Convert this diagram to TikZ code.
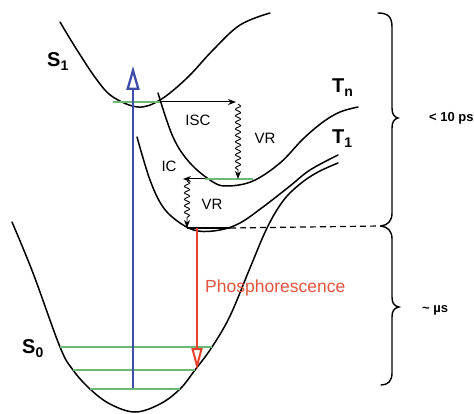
\documentclass[tikz,border=0pt]{standalone}
\usepackage{fontspec}
\setmainfont{Liberation Sans}
\usetikzlibrary{arrows.meta,decorations.pathmorphing,decorations.pathreplacing}
\definecolor{bluearr}{RGB}{62,78,168}
\definecolor{redarr}{RGB}{232,64,44}
\definecolor{phostext}{RGB}{228,84,62}
\definecolor{lvlgreen}{RGB}{108,184,118}
\newcommand\subidx[1]{\raisebox{-4pt}{\fontsize{14}{14}\selectfont #1}}
\begin{document}
\begin{tikzpicture}[x=1pt,y=-1pt,
  curveline/.style={line width=1.5pt, black, line cap=round},
  lvl/.style={line width=1.6pt, lvlgreen},
  blacklvl/.style={line width=1.3pt, black},
  smallarr/.style={line width=1pt, black, -{Stealth[length=8pt,width=6pt]}},
  waver/.style={line width=0.9pt, black, decorate,
    decoration={snake, amplitude=2.6pt, segment length=6.5pt, post length=8pt},
    -{Stealth[length=8pt,width=6pt]}},
  bracestyle/.style={line width=1.4pt, black, line cap=round},
  labbig/.style={font=\bfseries\fontsize{20}{20}\selectfont, inner sep=0pt},
  labsmall/.style={font=\fontsize{15}{15}\selectfont, inner sep=0pt},
  labtime/.style={font=\bfseries\fontsize{13}{13}\selectfont, inner sep=0pt}]
\useasboundingbox (0,0) rectangle (474,414);

% potential curves
\draw[curveline] plot[smooth,tension=0.6] coordinates {(60,22) (77,50) (97,80) (113,97) (138,107) (160,100) (187,78) (213,50) (240,25) (270,13)};
\draw[curveline] plot[smooth,tension=0.6] coordinates {(158,93) (173,137) (190,163) (213,182) (228,186) (253,181) (280,163) (303,139) (323,122) (340,112) (358,107)};
\draw[curveline] plot[smooth,tension=0.6] coordinates {(137,137) (150,180) (163,207) (180,223) (198,231) (220,230) (240,223) (263,207) (290,186) (310,170) (338,155)};
\draw[curveline] plot[smooth,tension=0.6] coordinates {(12,222) (33,273) (60,347) (73,370) (90,389) (110,404) (135,412) (160,404) (180,389) (195,370) (212,347) (230,316) (250,268) (267,228) (283,201) (300,184) (318,172) (338,163)};

% coordinates
\coordinate (s1l) at (113,102);
\coordinate (s1r) at (160,102);
\coordinate (iscend) at (236,102);
\coordinate (vr1top) at (238,104);
\coordinate (vr1bot) at (238,179);
\coordinate (tnl) at (205,179);
\coordinate (tnr) at (253,179);
\coordinate (icend) at (183,179);
\coordinate (vr2top) at (187,181);
\coordinate (vr2bot) at (187,228);
\coordinate (t1l) at (187,228);
\coordinate (t1r) at (230,228);
\coordinate (dashend) at (381,226);
\coordinate (bracetop) at (378,13);
\coordinate (bracebot) at (381,385);
\coordinate (tip1) at (398,118);
\coordinate (tip2) at (399,307);
\coordinate (blue0) at (133,388);
\coordinate (blue1) at (133,66);
\coordinate (red0) at (197,228);
\coordinate (red1) at (197,370);

% vibrational levels
\draw[lvl] (s1l) -- (s1r);
\draw[lvl] (tnl) -- (tnr);
\draw[blacklvl] (t1l) -- (t1r);
\draw[line width=1.2pt, black, dash pattern=on 6pt off 4pt] (t1r) -- (dashend);
\coordinate (g1l) at (60,347); \coordinate (g1r) at (212,347);
\coordinate (g2l) at (73,370); \coordinate (g2r) at (195,370);
\coordinate (g3l) at (90,389); \coordinate (g3r) at (180,389);
\draw[lvl] (g1l) -- (g1r);
\draw[lvl] (g2l) -- (g2r);
\draw[lvl] (g3l) -- (g3r);

% transitions
\draw[smallarr] (s1r) -- (iscend);
\draw[waver] (vr1top) -- (vr1bot);
\draw[smallarr] (tnl) -- (icend);
\draw[waver] (vr2top) -- (vr2bot);
\draw[bluearr, line width=2.3pt, -{Triangle[open,length=24pt,width=13pt]}] (blue0) -- (blue1);
\draw[redarr, line width=2pt, -{Triangle[open,length=22pt,width=11pt]}] (red0) -- (red1);

% braces
\draw[bracestyle] (bracetop) .. controls (388,13) and (392,17) .. (392,27) -- (392,108)
  .. controls (392,114) and (394,117) .. (tip1)
  .. controls (394,119) and (392,122) .. (392,128) -- (392,213)
  .. controls (392,221) and (388,225) .. (dashend);
\draw[bracestyle] (dashend) .. controls (388,227) and (392,231) .. (392,239) -- (392,297)
  .. controls (392,303) and (394,306) .. (tip2)
  .. controls (394,308) and (392,311) .. (392,317) -- (392,373)
  .. controls (392,381) and (388,385) .. (bracebot);

% labels
\node[labbig, anchor=base west] (lS1) at (47,67) {S\subidx{1}};
\node[labbig, anchor=base west] (lTn) at (332,93) {T\subidx{n}};
\node[labbig, anchor=base west] (lT1) at (332,144) {T\subidx{1}};
\node[labbig, anchor=base west] (lS0) at (22,353) {S\subidx{0}};
\node[labsmall] (lisc) at (198,120) {ISC};
\node[labsmall] (lvr1) at (265,138) {VR};
\node[labsmall] (lic) at (169,166) {IC};
\node[labsmall] (lvr2) at (212,204) {VR};
\node[font=\fontsize{17.5}{17.5}\selectfont, inner sep=0pt, text=phostext, anchor=base west] (lphos) at (205,292) {Phosphorescence};
\node[labtime, anchor=west] (lps) at (429,118) {< 10 ps};
\node[labtime, anchor=west] (lmus) at (422,310) {\textasciitilde\ µs};
\end{tikzpicture}
\end{document}
